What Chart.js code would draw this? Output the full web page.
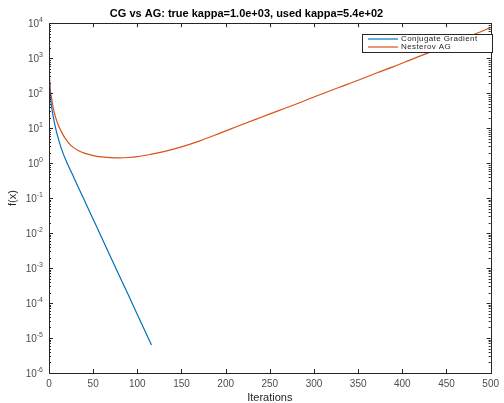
<!DOCTYPE html>
<html>
<head>
<meta charset="utf-8">
<script src="https://cdn.jsdelivr.net/npm/chart.js@4.4.1/dist/chart.umd.min.js"></script>
<style>
  html, body { margin: 0; padding: 0; background: #fff; }
  #wrap { width: 504px; height: 403px; }
</style>
</head>
<body>
<div id="wrap"><canvas id="chart" width="504" height="403"></canvas></div>
<script>
// data (f values, log y axis)
const iterNAG = [0, 1, 2, 3, 5, 7, 10, 14, 18, 25, 33, 40, 50, 60, 70, 80, 90, 100, 115, 130, 148, 170, 193, 215, 238, 260, 283, 305, 328, 350, 370, 390, 410, 430, 450, 470, 490, 500];
const fNAG = [794, 178, 100, 70.8, 35.5, 22.4, 13.2, 7.94, 5.25, 3.16, 2.29, 1.93, 1.64, 1.50, 1.43, 1.41, 1.45, 1.53, 1.78, 2.14, 2.82, 4.27, 7.08, 11.7, 19.5, 31.6, 52.5, 87.1, 145, 234, 372, 575, 912, 1445, 2344, 3715, 5888, 7586];

const iterCG = [0, 1, 2, 3, 5, 7, 10, 14, 20, 25, 33, 45, 60, 75, 90, 105, 116];
const fCG = [794, 112, 63, 39.8, 20, 11.2, 5.6, 2.6, 1.07, 0.575, 0.209, 0.0468, 0.00708, 0.00107, 1.66e-4, 2.51e-5, 6.3e-6];

const xTicks = [0, 50, 100, 150, 200, 250, 300, 350, 400, 450, 500];
const yExps = [-6, -5, -4, -3, -2, -1, 0, 1, 2, 3, 4];

const FONT = 'Liberation Sans, Arial, Helvetica, sans-serif';
const BLUE = '#0072BD';
const ORANGE = '#D95319';

//frame, inward ticks and y labels like matlab
const axesBox = {
  id: 'axesBox',
  afterDatasetsDraw(chart) {
    const ctx = chart.ctx;
    const a = chart.chartArea;
    const xs = chart.scales.x, ys = chart.scales.y;
    ctx.save();
    ctx.strokeStyle = '#262626';
    ctx.lineWidth = 1;
    ctx.beginPath();
    xTicks.forEach(t => {
      const px = Math.round(xs.getPixelForValue(t)) + 0.5;
      ctx.moveTo(px, a.bottom); ctx.lineTo(px, a.bottom - 4);
      ctx.moveTo(px, a.top); ctx.lineTo(px, a.top + 4);
    });
    yExps.forEach((e, i) => {
      const py = Math.round(ys.getPixelForValue(Math.pow(10, e))) + 0.5;
      ctx.moveTo(a.left, py); ctx.lineTo(a.left + 4, py);
      ctx.moveTo(a.right, py); ctx.lineTo(a.right - 4, py);
      if (i < yExps.length - 1) {
        for (let m = 2; m <= 9; m++) {
          const pm = Math.round(ys.getPixelForValue(m * Math.pow(10, e))) + 0.5;
          ctx.moveTo(a.left, pm); ctx.lineTo(a.left + 2, pm);
          ctx.moveTo(a.right, pm); ctx.lineTo(a.right - 2, pm);
        }
      }
    });
    ctx.stroke();
    ctx.strokeRect(Math.round(a.left) + 0.5, Math.round(a.top) + 0.5,
      Math.round(a.right - a.left), Math.round(a.bottom - a.top));

    // y tick labels with superscript
    ctx.fillStyle = '#4d4d4d';
    ctx.textBaseline = 'alphabetic';
    yExps.forEach(e => {
      const py = ys.getPixelForValue(Math.pow(10, e));
      const ex = String(e);
      ctx.font = '7px ' + FONT;
      const ew = ctx.measureText(ex).width;
      const right = a.left - 6;
      ctx.textAlign = 'left';
      ctx.fillText(ex, right - ew, py - 1);
      ctx.font = '10px ' + FONT;
      ctx.textAlign = 'right';
      ctx.fillText('10', right - ew, py + 4);
    });
    ctx.restore();
  },
  afterDraw(chart) {
    //legend box
    const ctx = chart.ctx;
    const x0 = 362, y0 = 34, w = 130, h = 18;
    ctx.save();
    ctx.fillStyle = '#fff';
    ctx.fillRect(x0, y0, w, h);
    ctx.strokeStyle = '#262626';
    ctx.lineWidth = 1;
    ctx.strokeRect(x0 + 0.5, y0 + 0.5, w, h);
    ctx.font = '8px ' + FONT;
    ctx.letterSpacing = '0.4px';
    ctx.textBaseline = 'middle';
    ctx.textAlign = 'left';
    chart.data.datasets.forEach((ds, i) => {
      const yy = y0 + 5 + i * 8;
      ctx.strokeStyle = ds.borderColor;
      ctx.lineWidth = 1.2;
      ctx.beginPath();
      ctx.moveTo(x0 + 6, yy); ctx.lineTo(x0 + 36, yy);
      ctx.stroke();
      ctx.fillStyle = '#262626';
      ctx.fillText(ds.label, x0 + 39, yy);
    });
    ctx.restore();
  }
};

new Chart(document.getElementById('chart'), {
  type: 'line',
  data: {
    datasets: [
      {
        label: 'Conjugate Gradient',
        data: iterCG.map((x, i) => ({ x: x, y: fCG[i] })),
        borderColor: BLUE,
        borderWidth: 1.2,
        pointRadius: 0,
        cubicInterpolationMode: 'monotone',
        fill: false
      },
      {
        label: 'Nesterov AG',
        data: iterNAG.map((x, i) => ({ x: x, y: fNAG[i] })),
        borderColor: ORANGE,
        borderWidth: 1.2,
        pointRadius: 0,
        cubicInterpolationMode: 'monotone',
        fill: false
      }
    ]
  },
  options: {
    responsive: false,
    animation: false,
    layout: { padding: { top: 0, left: 0, right: 11, bottom: 0 } },
    plugins: {
      legend: { display: false },
      tooltip: { enabled: false },
      title: {
        display: true,
        text: 'CG vs AG: true kappa=1.0e+03, used kappa=5.4e+02',
        color: '#000',
        font: { family: FONT, size: 11, weight: 'bold' },
        padding: { top: 7, bottom: 3 }
      }
    },
    scales: {
      x: {
        type: 'linear',
        min: 0,
        max: 500,
        afterBuildTicks: s => { s.ticks = xTicks.map(v => ({ value: v })); },
        ticks: { color: '#4d4d4d', font: { family: FONT, size: 10 }, padding: 5, maxRotation: 0, autoSkip: false },
        grid: { display: false, drawTicks: false },
        border: { display: false },
        title: { display: true, text: 'Iterations', color: '#262626', font: { family: FONT, size: 11 }, padding: { top: 0, bottom: -1.5 } },
        afterFit: s => { s.height = 30; }
      },
      y: {
        type: 'logarithmic',
        min: 1e-6,
        max: 1e4,
        ticks: { display: false },
        grid: { display: false, drawTicks: false },
        border: { display: false },
        title: { display: true, text: 'f(x)', color: '#262626', font: { family: FONT, size: 11 }, padding: { top: 6, bottom: 0 } },
        afterFit: s => { s.width = 49; }
      }
    }
  },
  plugins: [axesBox]
});
</script>
</body>
</html>
